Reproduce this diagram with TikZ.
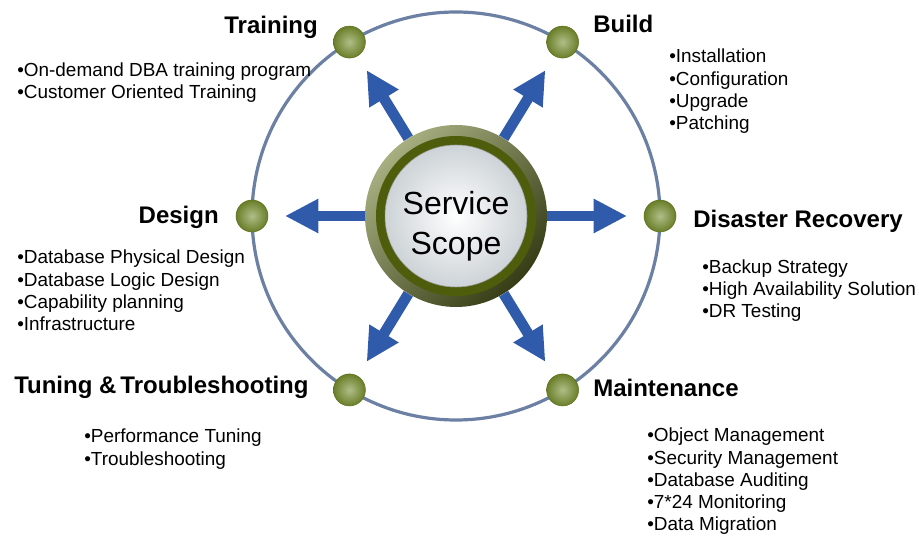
\documentclass[tikz,border=0pt]{standalone}
\usepackage{fontspec}
\setmainfont{Liberation Sans}
\usetikzlibrary{calc,arrows.meta}
\definecolor{ringblue}{HTML}{6B80A3}
\definecolor{arrblue}{HTML}{2F5BAA}
\definecolor{dotin}{HTML}{B0BE88}
\definecolor{dotout}{HTML}{6A7E28}
\definecolor{dotrim}{HTML}{5E7220}
\definecolor{discl}{HTML}{A7AE80}
\definecolor{discd}{HTML}{363D16}
\definecolor{band}{HTML}{4E5D0C}
\definecolor{face}{HTML}{CDD3D7}

\begin{document}
\begin{tikzpicture}
      [x=.75pt,y=.75pt
    % кольцо, точки и стрелки
      ,ring/.style={draw=ringblue,line width=2.4pt}
      ,dot/.style={circle,draw=dotrim,thin,inner sep=0pt,minimum size=24pt,inner color=dotin,outer color=dotout}
      ,arr/.style={draw=arrblue,line width=8pt,-{Triangle[length=25pt,width=24pt]},shorten >=12.5pt}
      ,disc/.style={circle,inner sep=0pt,minimum size=136.5pt,top color=discl,bottom color=discd,shading angle=45
         ,path picture={\fill[band] (path picture bounding box.center) circle (60pt);
                        \shade[inner color=white,outer color=face] (path picture bounding box.center) circle (53.25pt);
                        \draw[gray!75,thin] (path picture bounding box.center) circle (53.25pt);}}
    % эти константы задают шрифты
      ,ttl/.style={font=\fontsize{18}{20}\selectfont\bfseries,inner sep=0pt}
      ,lst/.style={font=\fontsize{14.2}{16.6}\selectfont,align=left,inner sep=0pt,anchor=base west}
      ]
        \useasboundingbox (0,0) rectangle (919,535);
        \coordinate (c) at (456,319);
        \draw[ring] (c) circle (204);

        \node[dot] (train) at ($(c)+(121.5:204)$) {};
        \node[dot] (build) at ($(c)+(58.5:204)$) {};
        \node[dot] (design) at ($(c)+(180:204)$) {};
        \node[dot] (dr) at ($(c)+(0:204)$) {};
        \node[dot] (tune) at ($(c)+(238.5:204)$) {};
        \node[dot] (maint) at ($(c)+(301.5:204)$) {};

        \node[disc] (scope) at (c) {};
        \node[font=\fontsize{24}{30}\selectfont,align=center,inner sep=0pt] (scopetxt) at ($(scope.center)+(0,-10)$) {Service\\Scope};

        \draw[arr] (scope) -- (train);
        \draw[arr] (scope) -- (build);
        \draw[arr] (scope) -- (design);
        \draw[arr] (scope) -- (dr);
        \draw[arr] (scope) -- (tune);
        \draw[arr] (scope) -- (maint);

    % заголовки
        \node[ttl,anchor=base east] (ttrain) at (318,501) {Training};
        \node[ttl,anchor=base west] (tbuild) at (593,502) {Build};
        \node[ttl,anchor=base east] (tdesign) at (219,311) {Design};
        \node[ttl,anchor=base west] (tdr) at (693,307) {Disaster Recovery};
        \node[ttl,anchor=base west] (ttune) at (14,142) {Tuning \&\,Troubleshooting};
        \node[ttl,anchor=base west] (tmaint) at (593,138) {Maintenance};

    % списки (base = последняя строка)
        \node[lst] (ltrain) at (17,436) {•On-demand DBA training program\\•Customer Oriented Training};
        \node[lst] (lbuild) at (669,405.6) {•Installation\\•Configuration\\•Upgrade\\•Patching};
        \node[lst] (ldesign) at (17,204.6) {•Database Physical Design\\•Database Logic Design\\•Capability planning\\•Infrastructure};
        \node[lst] (ldr) at (702,217.7) {•Backup Strategy\\•High Availability Solution\\•DR Testing};
        \node[lst] (ltune) at (84,70) {•Performance Tuning\\•Troubleshooting};
        \node[lst] (lmaint) at (647,4.5) {•Object Management\\•Security Management\\•Database Auditing\\•7*24 Monitoring\\•Data Migration};
       \end{tikzpicture}
\end{document}
